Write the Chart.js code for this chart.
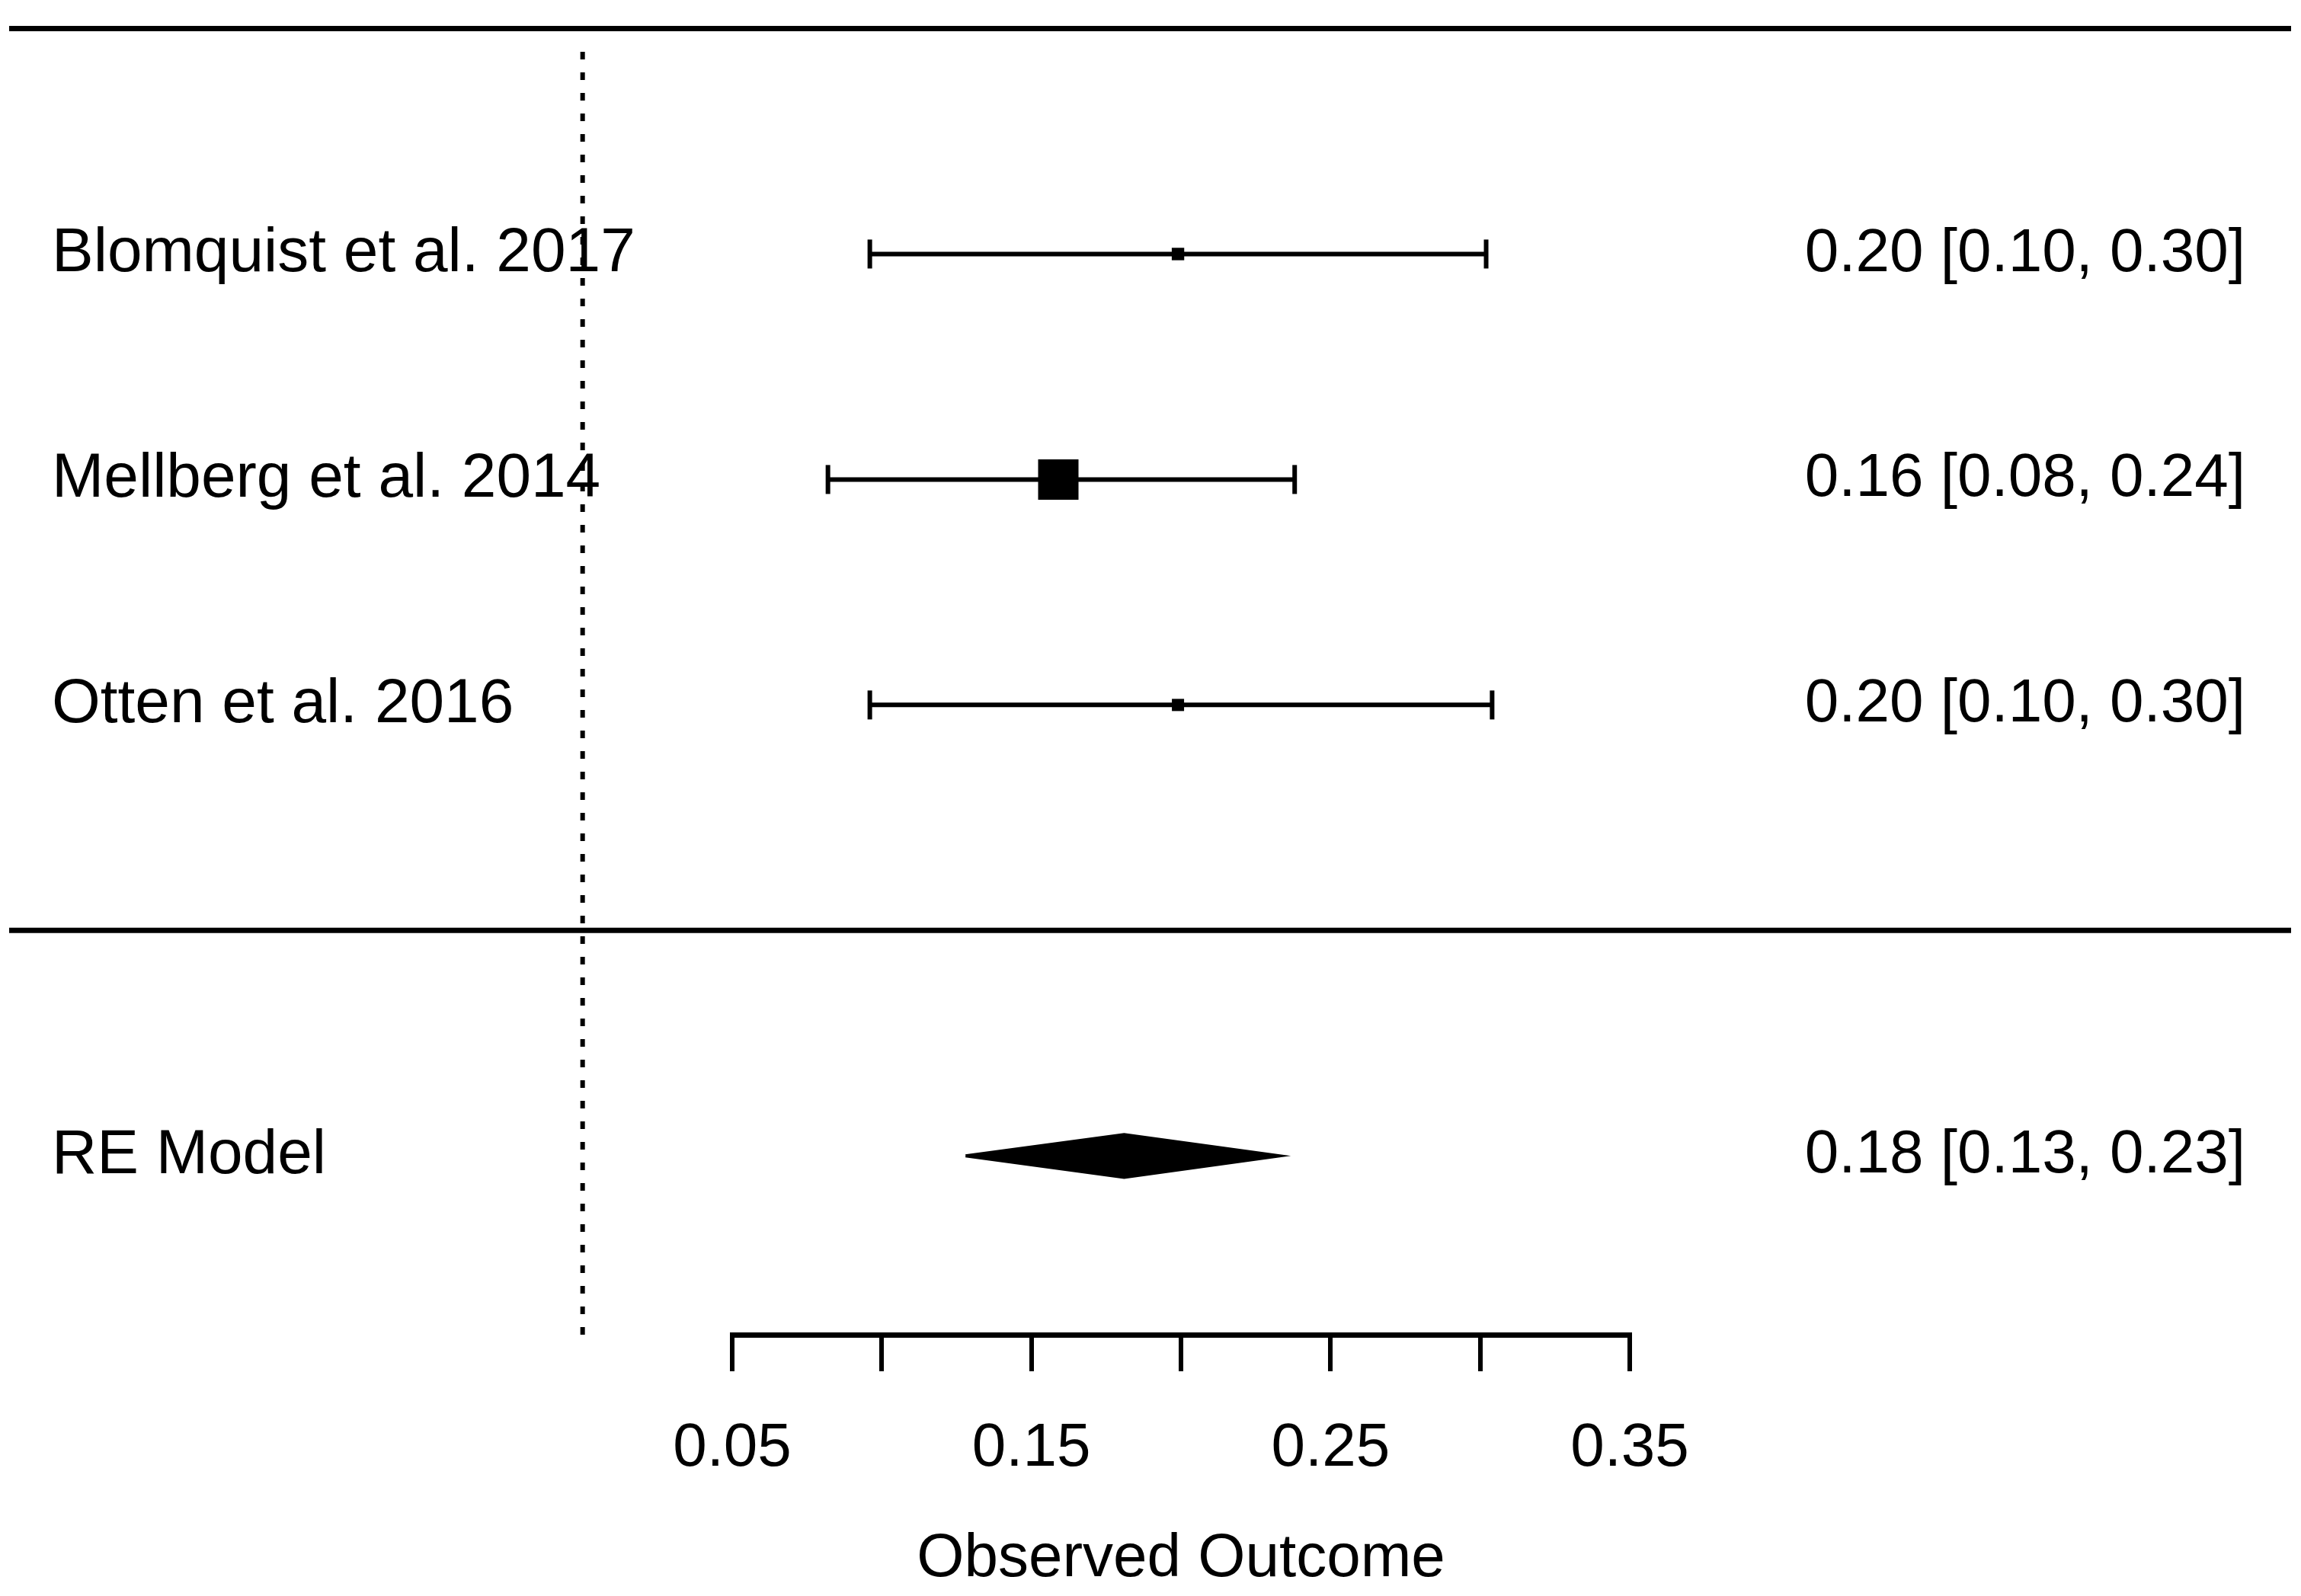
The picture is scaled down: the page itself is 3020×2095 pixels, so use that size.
<!DOCTYPE html>
<html>
<head>
<meta charset="utf-8">
<script src="https://cdn.jsdelivr.net/npm/chart.js@4.4.1/dist/chart.umd.min.js"></script>
<style>
html,body{margin:0;padding:0;background:#fff;overflow:hidden}
canvas{display:block}
</style>
</head>
<body>
<canvas id="c" width="3020" height="2095" style="width:3020px;height:2095px"></canvas>
<script>
// ---- data ----
const studies   = ['Blomquist et al. 2017', 'Mellberg et al. 2014', 'Otten et al. 2016'];
const estimates = [0.199, 0.159, 0.199];
const ciLower   = [0.096, 0.082, 0.096];
const ciUpper   = [0.302, 0.238, 0.304];
const weights   = [26.4, 47.3, 26.2];   // inverse-variance weights (%)

const pooledLabel    = 'RE Model';
const pooledEstimate = [0.181];
const pooledLower    = [0.128];
const pooledUpper    = [0.233];

const refLine    = [0];
const tickValues = [0.05, 0.10, 0.15, 0.20, 0.25, 0.30, 0.35];
const tickLabels = ['0.05', '0.15', '0.25', '0.35'];
const xTitle     = 'Observed Outcome';

// ---- derived ----
const k = studies.length;
const rows = studies.map((_, i) => k - i);
const pooledRow = -1;
const yMin = -1.793, yMax = k + 1;
const fmt = (e, l, u) => e.toFixed(2) + ' [' + l.toFixed(2) + ', ' + u.toFixed(2) + ']';

const wMin = Math.min(...weights), wMax = Math.max(...weights);
const minSide = 16, maxSide = 53;
const sideFor = w => minSide + (w - wMin) / (wMax - wMin) * (maxSide - minSide);
const rectRadius = side => side / (2 * Math.SQRT1_2);

const FONT = '"Liberation Sans", Arial, sans-serif';

const datasets = [];

// reference line
datasets.push({
  type: 'scatter', showLine: true, clip: false,
  data: [{x: refLine[0], y: yMin}, {x: refLine[0], y: yMax - 0.05}],
  borderColor: '#000', borderWidth: 6, borderDash: [10, 17], borderCapStyle: 'butt',
  pointRadius: 0
});

// CI segments with end caps
studies.forEach((s, i) => {
  datasets.push({
    type: 'scatter', showLine: true, clip: false,
    data: [{x: ciLower[i], y: rows[i]}, {x: ciUpper[i], y: rows[i]}],
    borderColor: '#000', borderWidth: 6,
    pointStyle: 'line', rotation: 90, pointRadius: 19, pointBorderWidth: 6,
    pointBorderColor: '#000', pointBackgroundColor: '#000'
  });
});

// study squares
datasets.push({
  type: 'scatter', clip: false,
  data: studies.map((s, i) => ({x: estimates[i], y: rows[i]})),
  pointStyle: 'rect',
  pointRadius: weights.map(w => rectRadius(sideFor(w))),
  pointBackgroundColor: '#000', pointBorderWidth: 0, pointBorderColor: '#000'
});

// pooled diamond
const dh = 0.095;
datasets.push({
  type: 'line', clip: false, fill: 'shape', tension: 0,
  data: [
    {x: pooledLower[0], y: pooledRow},
    {x: pooledEstimate[0], y: pooledRow + dh},
    {x: pooledUpper[0], y: pooledRow},
    {x: pooledEstimate[0], y: pooledRow - dh},
    {x: pooledLower[0], y: pooledRow}
  ],
  borderColor: '#000', borderWidth: 4, backgroundColor: '#000', pointRadius: 0
});

const textPlugin = {
  id: 'forestText',
  beforeDatasetsDraw(chart) {
    const ctx = chart.ctx, ys = chart.scales.y;
    ctx.save();
    ctx.strokeStyle = '#000';
    ctx.lineWidth = 7;
    [yMax, 0].forEach(r => {
      const y = ys.getPixelForValue(r);
      ctx.beginPath();
      ctx.moveTo(12, y);
      ctx.lineTo(chart.width - 13, y);
      ctx.stroke();
    });
    ctx.restore();
  },
  afterDraw(chart) {
    const ctx = chart.ctx, ys = chart.scales.y;
    ctx.save();
    ctx.fillStyle = '#000';
    ctx.textBaseline = 'middle';
    studies.forEach((s, i) => {
      const y = ys.getPixelForValue(rows[i]);
      ctx.font = '82px ' + FONT;
      ctx.textAlign = 'left';
      ctx.fillText(s, 68, y);
      ctx.font = '80px ' + FONT;
      ctx.textAlign = 'right';
      ctx.fillText(fmt(estimates[i], ciLower[i], ciUpper[i]), 2947, y);
    });
    const yp = ys.getPixelForValue(pooledRow);
    ctx.font = '82px ' + FONT;
    ctx.textAlign = 'left';
    ctx.fillText(pooledLabel, 68, yp);
    ctx.font = '80px ' + FONT;
    ctx.textAlign = 'right';
    ctx.fillText(fmt(pooledEstimate[0], pooledLower[0], pooledUpper[0]), 2947, yp);
    ctx.restore();
  }
};

new Chart(document.getElementById('c'), {
  type: 'scatter',
  data: {datasets},
  options: {
    responsive: false,
    devicePixelRatio: 1,
    animation: false,
    events: [],
    layout: {padding: {left: 961, right: 881, top: 30, bottom: 0}},
    plugins: {legend: {display: false}, tooltip: {enabled: false}},
    scales: {
      x: {
        type: 'linear', min: 0.05, max: 0.35,
        afterFit: s => { s.height = 343; },
        afterBuildTicks: s => { s.ticks = tickValues.map(v => ({value: v})); },
        border: {display: true, color: '#000', width: 7},
        grid: {display: true, drawOnChartArea: false, drawTicks: true, tickLength: 48,
               tickWidth: 6, tickColor: '#000', color: '#000', lineWidth: 6},
        ticks: {
          autoSkip: false, maxRotation: 0, minRotation: 0, padding: 54, color: '#000',
          font: {family: FONT, size: 80},
          callback: v => {
            const t = Number(v).toFixed(2);
            return tickLabels.includes(t) ? t : '';
          }
        },
        title: {display: true, text: xTitle, color: '#000',
                font: {family: FONT, size: 80}, padding: {top: 0, bottom: 0}}
      },
      y: {type: 'linear', min: yMin, max: yMax, display: false}
    }
  },
  plugins: [textPlugin]
});
</script>
</body>
</html>
